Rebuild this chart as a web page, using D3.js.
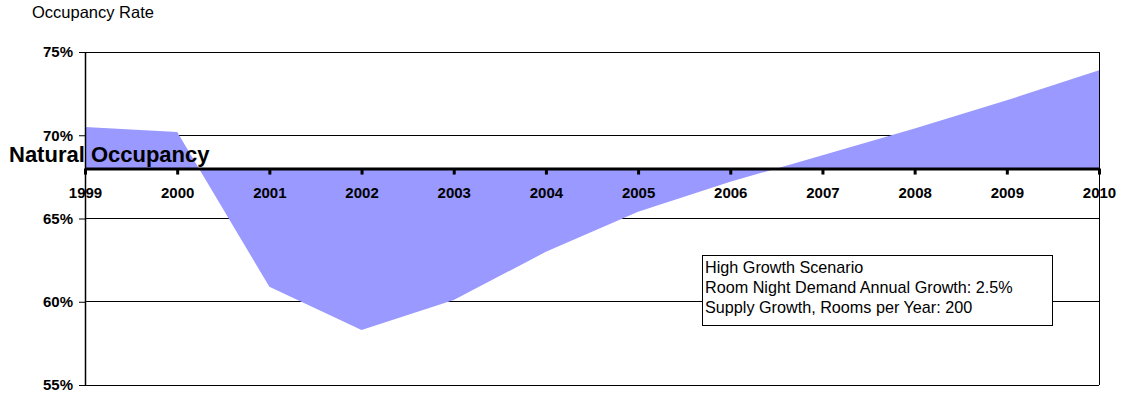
<!DOCTYPE html>
<html>
<head>
<meta charset="utf-8">
<script src="https://cdn.jsdelivr.net/npm/d3@7"></script>
<style>
  html, body { margin: 0; padding: 0; background: #fff; }
  svg { display: block; font-family: "Liberation Sans", Arial, sans-serif; }
</style>
</head>
<body>
<svg id="chart" width="1123" height="396"></svg>
<script>
// Occupancy by year, in percent
const years = [1999, 2000, 2001, 2002, 2003, 2004, 2005, 2006, 2007, 2008, 2009, 2010];
const occupancy = [70.5, 70.2, 60.9, 58.3, 60.1, 63.0, 65.4, 67.2, 68.8, 70.4, 72.1, 73.9];
const naturalOccupancy = 68;
const yTicks = [55, 60, 65, 70, 75];
const scenarioLines = [
  "High Growth Scenario",
  "Room Night Demand Annual Growth: 2.5%",
  "Supply Growth, Rooms per Year: 200"
];

const svg = d3.select("#chart");
const plotLeft = 85, plotRight = 1099, plotTop = 52, plotBottom = 385;

const x = d3.scaleLinear().domain([1999, 2010]).range([plotLeft, plotRight]);
const y = d3.scaleLinear().domain([55, 75]).range([plotBottom, plotTop]);

// Horizontal gridlines
svg.append("g")
  .selectAll("line")
  .data(yTicks)
  .join("line")
  .attr("x1", plotLeft).attr("x2", plotRight)
  .attr("y1", d => y(d)).attr("y2", d => y(d))
  .attr("stroke", "#000").attr("stroke-width", 1)
  .attr("shape-rendering", "crispEdges");

// Right border of the plot area
svg.append("line")
  .attr("x1", plotRight).attr("x2", plotRight)
  .attr("y1", y(75)).attr("y2", y(55))
  .attr("stroke", "#000").attr("stroke-width", 1)
  .attr("shape-rendering", "crispEdges");

// Deviation from natural occupancy, filled against the baseline
const rows = years.map((yr, i) => ({ year: yr, value: occupancy[i] }));
const area = d3.area()
  .x(d => x(d.year))
  .y0(y(naturalOccupancy))
  .y1(d => y(d.value));

svg.append("path")
  .datum(rows)
  .attr("d", area)
  .attr("fill", "#9999ff");

// Left value axis
const yAxis = svg.append("g")
  .attr("transform", `translate(${plotLeft},0)`)
  .call(d3.axisLeft(y).tickValues(yTicks).tickSize(6).tickSizeOuter(0).tickPadding(6)
    .tickFormat(d => d + "%"));
yAxis.select(".domain").attr("stroke", "#000").attr("stroke-width", 1.5);
yAxis.selectAll(".tick line").attr("stroke", "#000");
yAxis.selectAll("text")
  .attr("font-family", "'Liberation Sans', Arial, sans-serif")
  .attr("font-size", 15).attr("font-weight", "bold").attr("fill", "#000");

// Year axis placed on the natural occupancy line
const xAxis = svg.append("g")
  .attr("transform", `translate(0,${y(naturalOccupancy)})`)
  .call(d3.axisBottom(x).tickValues(years).tickFormat(d3.format("d"))
    .tickSize(6).tickSizeOuter(0).tickPadding(13));
xAxis.select(".domain").attr("stroke", "#000").attr("stroke-width", 3);
xAxis.selectAll(".tick line").attr("stroke", "#000").attr("stroke-width", 3);
xAxis.selectAll("text")
  .attr("font-family", "'Liberation Sans', Arial, sans-serif")
  .attr("font-size", 15).attr("font-weight", "bold").attr("fill", "#000");

// Baseline label
svg.append("text")
  .attr("x", 9).attr("y", 162)
  .attr("font-size", 22).attr("font-weight", "bold")
  .attr("fill", "#000")
  .text("Natural Occupancy");

// Axis title
svg.append("text")
  .attr("x", 32).attr("y", 18)
  .attr("font-size", 16.5).attr("fill", "#000")
  .text("Occupancy Rate");

// Scenario note
const note = svg.append("g");
note.append("rect")
  .attr("x", 702.5).attr("y", 255.5).attr("width", 350).attr("height", 70)
  .attr("fill", "#fff").attr("stroke", "#000").attr("stroke-width", 1);
note.selectAll("text")
  .data(scenarioLines)
  .join("text")
  .attr("x", 705).attr("y", (d, i) => 272.5 + i * 20)
  .attr("font-size", 16.2).attr("fill", "#000")
  .text(d => d);
</script>
</body>
</html>
